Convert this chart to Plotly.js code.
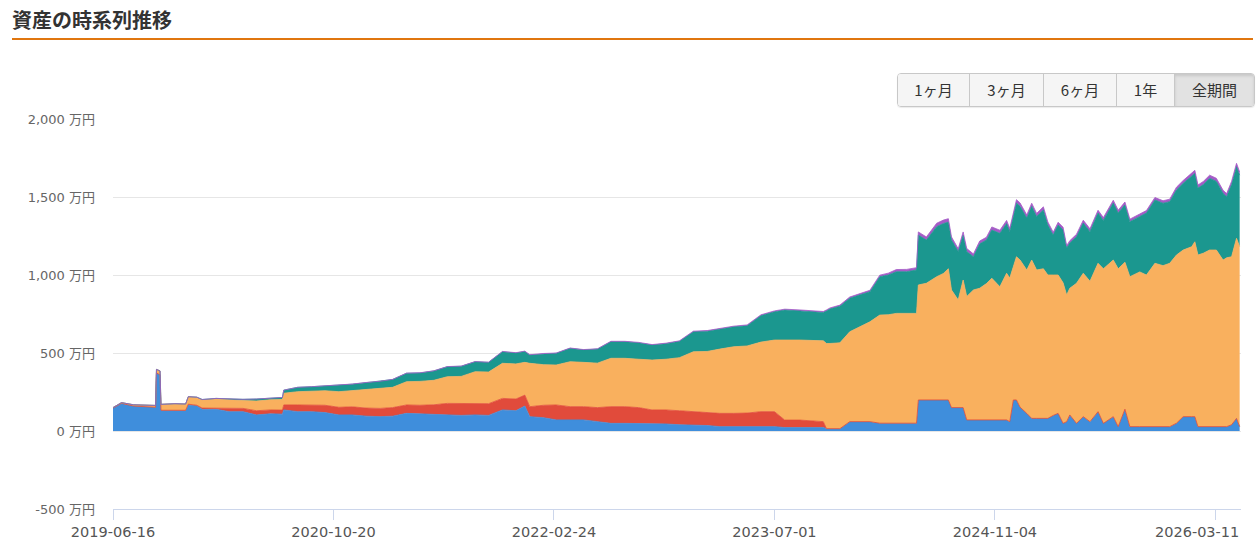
<!DOCTYPE html>
<html>
<head>
<meta charset="utf-8">
<script src="https://cdn.plot.ly/plotly-3.0.1.min.js"></script>
<style>
  html, body { margin:0; padding:0; width:1257px; height:542px; overflow:hidden; background:#fff;
    font-family:"Noto Sans CJK JP","Noto Sans",sans-serif; }
  #ttl { position:absolute; left:12px; top:6px; font-size:20px; font-weight:bold; color:#333; line-height:28px; }
  #rule { position:absolute; left:12px; top:38px; width:1241px; height:2px; background:#e0760f; }
  #chart { position:absolute; left:0; top:0; width:1257px; height:542px; }
  #btns { position:absolute; left:897px; top:73px; height:32px; display:flex; z-index:5;
    border:1px solid #c8c8c8; border-radius:4px; overflow:hidden; box-shadow:0 1px 1px rgba(0,0,0,0.08); }
  #btns div { height:32px; line-height:32px; text-align:center; font-size:15px; color:#333;
    background:#f5f5f5; border-right:1px solid #c8c8c8; box-sizing:border-box; }
  #btns div:last-child { border-right:none; background:#e2e2e2; box-shadow:inset 0 2px 3px rgba(0,0,0,0.12); }
</style>
</head>
<body>
<div id="chart"></div>
<div id="ttl">資産の時系列推移</div>
<div id="rule"></div>
<div id="btns"></div>
<script>
const rangeButtons = ["1ヶ月", "3ヶ月", "6ヶ月", "1年", "全期間"];
const buttonWidths = [72, 74, 73, 58, 79];

const tickDates = ["2019-06-16", "2020-10-20", "2022-02-24", "2023-07-01", "2024-11-04", "2026-03-11"];
const yTickVals = [-500, 0, 500, 1000, 1500, 2000];
const yTickText = ["-500 万円", "0 万円", "500 万円", "1,000 万円", "1,500 万円", "2,000 万円"];

const dates = [
 "2019-06-16","2019-07-05","2019-08-01","2019-09-01","2019-09-19","2019-09-21","2019-09-29","2019-10-01",
 "2019-11-01","2019-11-25","2019-12-01","2019-12-20","2020-01-01","2020-02-01","2020-03-01","2020-04-01",
 "2020-05-01","2020-06-01","2020-06-28","2020-07-01","2020-08-01","2020-09-01","2020-10-01","2020-11-01",
 "2020-12-01","2021-01-01","2021-02-01","2021-03-01","2021-04-01","2021-05-01","2021-06-01","2021-07-01",
 "2021-08-01","2021-09-01","2021-10-01","2021-11-01","2021-12-01","2021-12-21","2022-01-01","2022-02-01",
 "2022-03-01","2022-04-01","2022-05-01","2022-06-01","2022-07-01","2022-08-01","2022-09-01","2022-10-01",
 "2022-11-01","2022-12-01","2023-01-01","2023-02-01","2023-03-01","2023-04-01","2023-05-01","2023-06-01",
 "2023-07-01","2023-07-24","2023-08-27","2023-10-18","2023-10-25","2023-11-02","2023-11-24","2023-12-16",
 "2024-01-08","2024-01-30","2024-02-21","2024-03-11","2024-03-29","2024-04-21","2024-05-13","2024-05-17",
 "2024-06-04","2024-06-27","2024-07-12","2024-07-23","2024-07-30","2024-08-14","2024-08-25","2024-09-02",
 "2024-09-17","2024-10-01","2024-10-16","2024-10-28","2024-11-15","2024-11-30","2024-12-07","2024-12-15",
 "2024-12-22","2024-12-30","2025-01-14","2025-01-25","2025-02-05","2025-02-20","2025-03-02","2025-03-14",
 "2025-03-25","2025-04-05","2025-04-13","2025-04-20","2025-05-05","2025-05-20","2025-06-04","2025-06-22",
 "2025-07-04","2025-07-26","2025-08-06","2025-08-21","2025-09-01","2025-09-23","2025-10-08","2025-10-27",
 "2025-11-14","2025-11-29","2025-12-14","2025-12-29","2026-01-17","2026-01-24","2026-01-31","2026-02-12",
 "2026-02-26","2026-03-13","2026-03-28","2026-04-05","2026-04-16","2026-04-27","2026-05-04"
];

const cash = [
 147,177,160,155,152,372,360,130,
 130,128,167,160,139,139,124,124,
 103,110,108,135,124,124,118,103,
 103,95,92,95,113,110,105,103,
 100,103,100,135,130,160,92,85,
 71,71,71,60,49,49,49,45,
 45,40,38,35,28,28,30,28,
 28,22,22,22,15,15,15,60,
 60,60,50,50,50,50,50,199,
 199,199,199,199,150,150,150,71,
 71,71,71,71,71,71,60,199,
 199,153,113,81,81,81,81,100,
 113,49,60,103,49,92,60,124,
 49,92,28,140,28,28,28,28,
 28,28,50,92,92,92,28,28,
 28,28,28,28,40,81,28
];

const domesticStocks = [
 0,0,0,0,0,0,0,3,
 5,5,5,5,8,8,21,21,
 27,25,26,32,43,43,47,49,
 52,52,53,55,54,55,63,74,
 75,74,75,74,75,70,64,80,
 96,85,85,90,107,107,101,90,
 90,90,86,85,85,85,85,96,
 96,48,48,38,0,0,0,0,
 0,0,0,0,0,0,0,0,
 0,0,0,0,0,0,0,0,
 0,0,0,0,0,0,0,0,
 0,0,0,0,0,0,0,0,
 0,0,0,0,0,0,0,0,
 0,0,0,0,0,0,0,0,
 0,0,0,0,0,0,0,0,
 0,0,0,0,0,0,0
];

const investmentTrusts = [
 3,5,8,12,12,23,25,38,
 40,40,48,50,52,58,54,50,
 62,65,68,75,85,88,93,100,
 103,118,125,130,149,153,157,171,
 175,203,203,225,225,210,278,260,
 256,288,284,285,310,310,310,320,
 325,340,384,390,412,427,430,446,
 459,513,513,518,546,546,550,576,
 608,640,693,695,704,704,704,737,
 748,790,811,841,754,690,818,791,
 833,844,874,908,854,940,920,854,
 918,943,919,1015,951,959,919,900,
 887,901,812,812,898,919,900,951,
 991,1004,1012,942,961,992,972,1047,
 1032,1047,1078,1068,1089,1121,1100,1112,
 1132,1132,1068,1082,1077,1154,1153
];

const foreignStocks = [
 0,0,0,0,0,0,0,0,
 0,0,0,2,3,4,7,8,
 13,12,13,20,28,29,30,40,
 42,45,48,50,54,54,60,64,
 65,64,62,74,70,70,53,70,
 75,86,80,90,106,106,105,96,
 100,105,128,130,130,128,130,170,
 182,193,187,182,209,222,235,215,
 205,193,246,255,267,267,278,320,
 277,321,320,299,320,310,288,288,
 213,285,279,309,342,319,298,321,
 344,344,333,344,343,377,320,256,
 320,338,301,290,298,322,318,322,
 310,365,357,368,353,355,397,406,
 400,395,417,428,449,438,429,440,
 460,440,427,392,463,459,459
];

const otherAssets = [
 0,0,0,0,0,0,0,0,
 0,0,0,0,0,0,0,0,
 0,0,0,0,0,0,0,1,
 1,1,1,1,1,1,1,1,
 1,1,1,2,2,2,2,2,
 2,2,2,2,3,3,3,3,
 3,3,4,4,4,4,5,5,
 5,5,6,6,6,6,7,8,
 8,9,10,12,14,15,15,20,
 20,22,22,22,20,18,20,20,
 18,18,18,20,20,20,20,22,
 22,22,20,20,20,20,20,18,
 18,18,15,15,16,18,18,18,
 18,18,18,18,16,16,16,16,
 16,16,18,18,20,20,20,20,
 20,20,20,20,20,22,20
];

const seriesNames = ["現金", "国内株式", "投資信託", "外国株式", "その他"];
const seriesColors = ["#3f8edc", "#e14b3b", "#f9b05e", "#1b978f", "#a45bc6"];
const seriesValues = [cash, domesticStocks, investmentTrusts, foreignStocks, otherAssets];

// buttons
const bwrap = document.getElementById("btns");
rangeButtons.forEach((t, i) => {
  const d = document.createElement("div");
  d.textContent = t;
  d.style.width = buttonWidths[i] + "px";
  bwrap.appendChild(d);
});

const traces = seriesValues.map((vals, i) => ({
  type: "scatter",
  mode: "lines",
  x: dates,
  y: vals,
  name: seriesNames[i],
  stackgroup: "one",
  line: { color: seriesColors[i], width: 0.8 },
  fillcolor: seriesColors[i],
  hoverinfo: "skip"
}));

const lastIdx = tickDates.length - 1;
const xTickText = tickDates.map((d, i) => (i === lastIdx ? "" : d));
const labelFont = "DejaVu Sans, Noto Sans CJK JP, sans-serif";

const layout = {
  width: 1257,
  height: 542,
  margin: { l: 113, r: 16, t: 119, b: 33, pad: 0 },
  paper_bgcolor: "rgba(0,0,0,0)",
  plot_bgcolor: "rgba(0,0,0,0)",
  showlegend: false,
  font: { family: labelFont, color: "#555" },
  xaxis: {
    type: "date",
    range: ["2019-06-16", "2026-05-07"],
    tickmode: "array",
    tickvals: tickDates,
    ticktext: xTickText,
    ticks: "outside",
    ticklen: 10,
    tickwidth: 1,
    tickcolor: "#ccd6eb",
    showline: true,
    linecolor: "#ccd6eb",
    linewidth: 1,
    showgrid: false,
    zeroline: false,
    tickfont: { family: labelFont, size: 14.5, color: "#555" },
    fixedrange: true
  },
  yaxis: {
    range: [-500, 2000],
    tickmode: "array",
    tickvals: yTickVals,
    ticktext: yTickText,
    showgrid: true,
    gridcolor: "#e6e6e6",
    gridwidth: 1,
    zeroline: false,
    showline: false,
    ticks: "",
    ticklabelstandoff: 17,
    tickfont: { family: labelFont, size: 13, color: "#666" },
    fixedrange: true
  },
  annotations: [{
    text: tickDates[lastIdx],
    xref: "paper", yref: "paper",
    x: 1, y: 0,
    xanchor: "right", yanchor: "top",
    yshift: -13,
    showarrow: false,
    font: { family: labelFont, size: 14.5, color: "#555" }
  }]
};

Plotly.newPlot("chart", traces, layout, { staticPlot: true, displayModeBar: false });
</script>
</body>
</html>
